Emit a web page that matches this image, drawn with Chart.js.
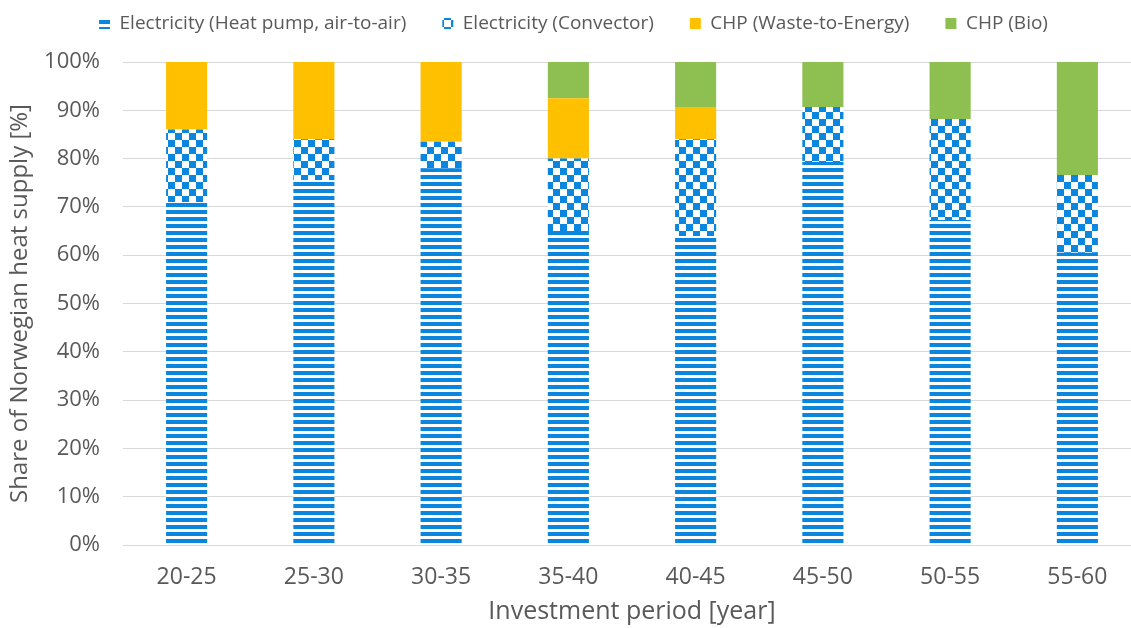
<!DOCTYPE html>
<html>
<head>
<meta charset="utf-8">
<script src="https://cdn.jsdelivr.net/npm/chart.js@4.4.1/dist/chart.umd.min.js"></script>
<style>
  html, body { margin: 0; padding: 0; background: #ffffff; overflow: hidden; }
  #wrap { width: 1141px; height: 628px; position: relative; }
</style>
</head>
<body>
<div id="wrap"><canvas id="c"></canvas></div>
<script>
const categories = ['20-25', '25-30', '30-35', '35-40', '40-45', '45-50', '50-55', '55-60'];
const heatPump  = [71, 75.5, 78, 65, 64, 79.3, 67.3, 60.5];
const convector = [15, 8.5, 5.5, 15, 20, 11.4, 20.9, 16.1];
const wasteToEnergy = [14, 16, 16.5, 12.5, 6.7, 0, 0, 0];
const bio = [0, 0, 0, 7.5, 9.3, 9.3, 11.8, 23.4];
const seriesNames = ['Electricity (Heat pump, air-to-air)', 'Electricity (Convector)', 'CHP (Waste-to-Energy)', 'CHP (Bio)'];
const yTicks = [0, 10, 20, 30, 40, 50, 60, 70, 80, 90, 100];

const BLUE = '#0b86df';
function stripePattern() {
  const t = document.createElement('canvas');
  t.width = 7; t.height = 7;
  const g = t.getContext('2d');
  g.fillStyle = '#ffffff'; g.fillRect(0, 0, 7, 7);
  g.fillStyle = BLUE; g.fillRect(0, 0, 7, 4);
  return g.createPattern(t, 'repeat');
}
function checkerPattern() {
  const t = document.createElement('canvas');
  t.width = 14; t.height = 14;
  const g = t.getContext('2d');
  g.fillStyle = '#ffffff'; g.fillRect(0, 0, 14, 14);
  g.fillStyle = BLUE; g.fillRect(0, 0, 7, 7); g.fillRect(7, 7, 7, 7);
  return g.createPattern(t, 'repeat');
}

const FONT = "'Open Sans', sans-serif";
const TXT = '#595959';

const legendTweak = {
  id: 'legendTweak',
  beforeInit(chart) {
    const lg = chart.legend;
    const origFit = lg.fit;
    lg.fit = function () { origFit.bind(lg)(); this.height = 62; };
    const origDraw = lg.draw;
    lg.draw = function () {
      const ctx = chart.ctx;
      ctx.save();
      ctx.translate(3, -22);
      origDraw.apply(lg, arguments);
      ctx.restore();
    };
  }
};

new Chart(document.getElementById('c'), {
  type: 'bar',
  data: {
    labels: categories,
    datasets: [
      { label: seriesNames[0], data: heatPump, backgroundColor: stripePattern(), borderWidth: 0 },
      { label: seriesNames[1], data: convector, backgroundColor: checkerPattern(), borderWidth: 0 },
      { label: seriesNames[2], data: wasteToEnergy, backgroundColor: '#ffc000', borderWidth: 0 },
      { label: seriesNames[3], data: bio, backgroundColor: '#8dc051', borderWidth: 0 }
    ]
  },
  plugins: [legendTweak],
  options: {
    responsive: true,
    maintainAspectRatio: false,
    animation: false,
    layout: { padding: 0 },
    datasets: { bar: { categoryPercentage: 1.0, barPercentage: 0.323 } },
    plugins: {
      tooltip: { enabled: false },
      legend: {
        position: 'top',
        labels: {
          boxWidth: 11, boxHeight: 11, padding: 36,
          color: TXT, font: { family: FONT, size: 19 }
        }
      }
    },
    scales: {
      x: {
        stacked: true,
        grid: { display: false, drawTicks: false },
        border: { display: false },
        ticks: { color: TXT, font: { family: FONT, size: 23 }, padding: 19 },
        title: { display: true, text: 'Investment period [year]', color: TXT,
                 font: { family: FONT, size: 25 }, padding: { top: 0, bottom: 1 } },
        afterFit(s) { s.height = 83; }
      },
      y: {
        stacked: true,
        min: 0, max: 100,
        afterBuildTicks(s) { s.ticks = yTicks.map(v => ({ value: v })); },
        grid: { color: '#d9d9d9', lineWidth: 1, drawTicks: false },
        border: { display: false },
        ticks: { color: TXT, font: { family: FONT, size: 22 }, padding: 23,
                 callback: v => v + '%' },
        title: { display: true, text: 'Share of Norwegian heat supply [%]', color: TXT,
                 font: { family: FONT, size: 24 }, padding: { top: 6, bottom: 0 } },
        afterFit(s) { s.width = 123; }
      }
    }
  }
});
</script>
</body>
</html>
